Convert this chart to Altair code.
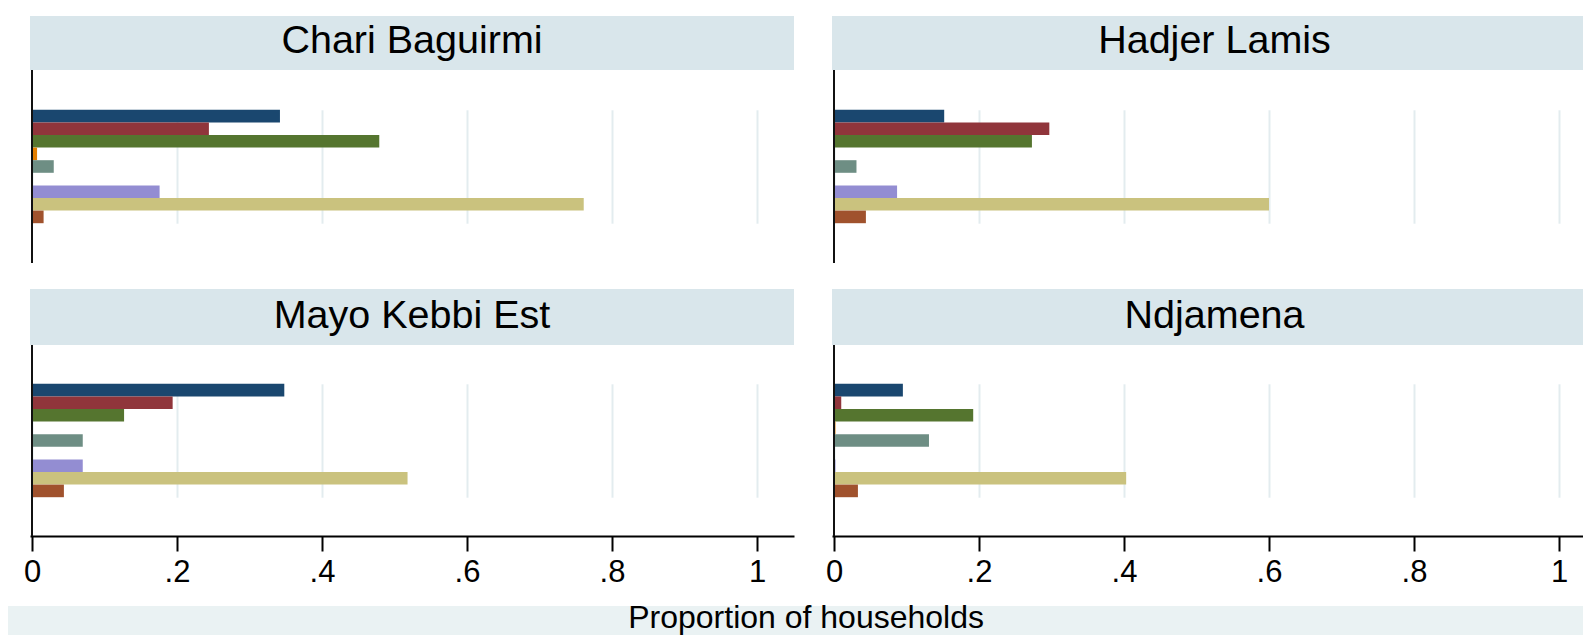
import altair as alt
import pandas as pd

# ---------------- data ----------------
regions = ["Chari Baguirmi", "Hadjer Lamis", "Mayo Kebbi Est", "Ndjamena"]
series = ["Series 1", "Series 2", "Series 3", "Series 4", "Series 5",
          "Series 6", "Series 7", "Series 8", "Series 9"]
colors = ["#1a476f", "#90353b", "#55752f", "#e37e00", "#6e8e84",
          "#c10534", "#938dd2", "#cac27e", "#a0522d"]

chari_baguirmi = [0.342, 0.244, 0.479, 0.007, 0.030, 0.0, 0.176, 0.761, 0.016]
hadjer_lamis = [0.152, 0.297, 0.273, 0.0, 0.031, 0.0, 0.087, 0.600, 0.044]
mayo_kebbi_est = [0.348, 0.194, 0.127, 0.0, 0.070, 0.0, 0.070, 0.518, 0.044]
ndjamena = [0.095, 0.010, 0.192, 0.002, 0.131, 0.0, 0.002, 0.403, 0.033]

values_by_region = [chari_baguirmi, hadjer_lamis, mayo_kebbi_est, ndjamena]
tick_values = [0, 0.2, 0.4, 0.6, 0.8, 1]
x_title = "Proportion of households"

# ---------------- style ----------------
FONT = "Liberation Sans"
STRIP = "#d9e6eb"
OUTER = "#eaf2f3"
GRID = "#e3ecef"
PX_PER_UNIT = 725.0
X0_OFFSET = 2.0  # px from panel left edge to value 0
BAR_STEP = 12.6

LABEL_EXPR = "datum.value == 0 ? '0' : datum.value == 1 ? '1' : '.' + round(datum.value * 10)"


def blank(w, h):
    return alt.Chart(pd.DataFrame({"a": [0]})).mark_rect(opacity=0).encode(
        x=alt.value(0), x2=alt.value(w), y=alt.value(0), y2=alt.value(h)
    ).properties(width=w, height=h)


def strip(name, w, h, text_x, base_y):
    df = pd.DataFrame({"region": [name]})
    base = alt.Chart(df)
    rect = base.mark_rect(color=STRIP).encode(
        x=alt.value(0), x2=alt.value(w), y=alt.value(0), y2=alt.value(h))
    txt = base.mark_text(font=FONT, fontSize=39.5, color="black",
                         align="center", baseline="alphabetic").encode(
        x=alt.value(text_x), y=alt.value(base_y), text="region:N")
    return alt.layer(rect, txt).properties(width=w, height=h)


def panel(vals, w, h, bottom_axis):
    df = pd.DataFrame({"series": series, "value": vals})
    lo = -X0_OFFSET / PX_PER_UNIT
    hi = lo + w / PX_PER_UNIT
    xscale = alt.Scale(domain=[lo, hi], nice=False, zero=False)
    if bottom_axis:
        axis = alt.Axis(values=tick_values, labelExpr=LABEL_EXPR, grid=True,
                        gridColor=GRID, gridWidth=2, domain=True,
                        domainColor="black", domainWidth=2, tickColor="black",
                        tickWidth=2, tickSize=15, labelFont=FONT,
                        labelFontSize=31, labelColor="black", labelPadding=6.5,
                        labelFlush=False, labelOverlap=False, title=None)
    else:
        axis = alt.Axis(values=tick_values, grid=True, gridColor=GRID,
                        gridWidth=2, labels=False, ticks=False, domain=False,
                        title=None)
    total = BAR_STEP * len(series)
    top = (h - total) / 2
    bars = alt.Chart(df).mark_bar().encode(
        x=alt.X("value:Q", scale=xscale, axis=axis),
        y=alt.Y("series:N", sort=series,
                scale=alt.Scale(domain=series, range=[top, top + total],
                                paddingInner=0, paddingOuter=0),
                axis=None),
        color=alt.Color("series:N", scale=alt.Scale(domain=series, range=colors),
                        legend=None),
    )
    yline = alt.Chart(pd.DataFrame({"z": [0.0]})).mark_rule(
        color="#111111", strokeWidth=2).encode(
        x=alt.X("z:Q", scale=xscale, axis=axis), y=alt.value(0), y2=alt.value(h))
    return alt.layer(bars, yline).properties(width=w, height=h)


def band(w, h, title_x=None, title_y=0):
    df = pd.DataFrame({"t": [x_title]})
    rect = alt.Chart(df).mark_rect(color=OUTER).encode(
        x=alt.value(0), x2=alt.value(w), y=alt.value(0), y2=alt.value(h))
    if title_x is None:
        return rect.properties(width=w, height=h)
    txt = alt.Chart(df).mark_text(font=FONT, fontSize=32, color="black",
                                  align="center", baseline="alphabetic").encode(
        x=alt.value(title_x), y=alt.value(title_y), text="t:N")
    return alt.layer(rect, txt).properties(width=w, height=h)


# column widths: left margin, panel A, gap, panel B
C0, CA, CG, CB = 22, 764, 38, 751
S1, P1, GAP, S2, P2, GAP2, BAND = 54, 193, 26, 56, 191, 70, 29
TEXT_B = 382.5          # strip title centre in panel B (reference strip is wider)
TITLE_X = 806.1 - 832   # axis title centre, relative to panel B column

cells = [
    blank(C0, S1), strip(regions[0], CA, S1, CA / 2, 37.3), blank(CG, S1),
    strip(regions[1], CB, S1, TEXT_B, 37.3),
    blank(C0, P1), panel(values_by_region[0], CA, P1, False), blank(CG, P1),
    panel(values_by_region[1], CB, P1, False),
    blank(C0, GAP), blank(CA, GAP), blank(CG, GAP), blank(CB, GAP),
    blank(C0, S2), strip(regions[2], CA, S2, CA / 2, 38.5), blank(CG, S2),
    strip(regions[3], CB, S2, TEXT_B, 38.5),
    blank(C0, P2), panel(values_by_region[2], CA, P2, True), blank(CG, P2),
    panel(values_by_region[3], CB, P2, True),
    blank(C0, GAP2), blank(CA, GAP2), blank(CG, GAP2), blank(CB, GAP2),
    band(C0, BAND), band(CA, BAND), band(CG, BAND),
    band(CB, BAND, TITLE_X, 22.3),
]

chart = alt.concat(*cells, columns=4, spacing=0, bounds="flush").properties(
    padding={"left": 0, "top": 8, "right": 0, "bottom": 0},
    background="white",
).resolve_scale(x="independent", y="independent", color="independent"
).configure_view(stroke=None)

chart.save("out.html", embed_options={"renderer": "svg", "actions": False})
